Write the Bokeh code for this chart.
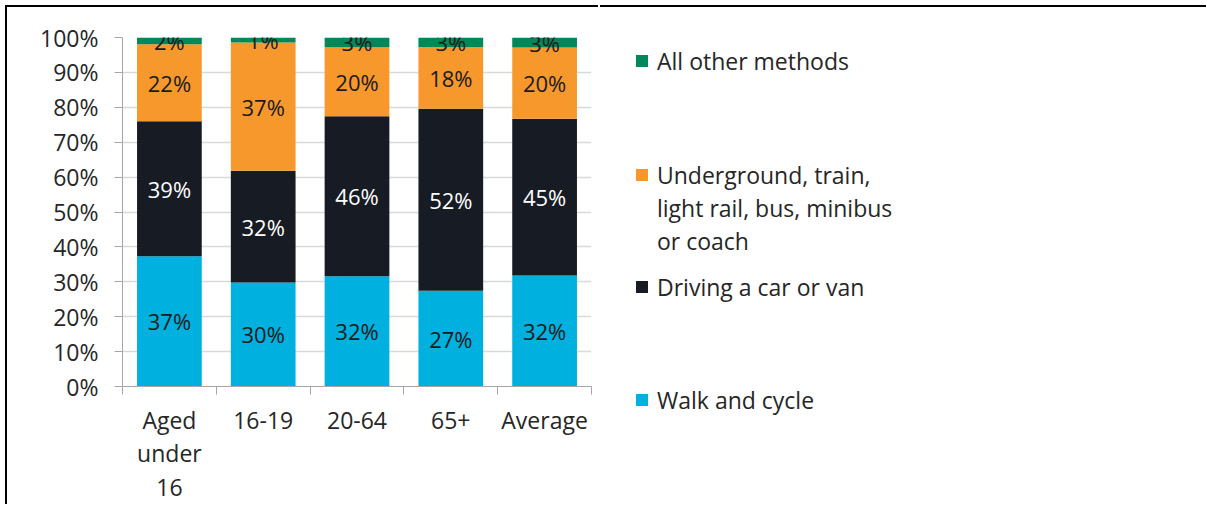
from bokeh.plotting import figure
from bokeh.models import (ColumnDataSource, Range1d, FixedTicker, PrintfTickFormatter,
                          Legend, LegendItem)
from bokeh.embed import file_html
from bokeh.resources import INLINE
from bokeh.core.properties import value
import numpy as np

# ---- data ----
categories = ["Aged\nunder\n16", "16-19", "20-64", "65+", "Average"]
walk_cycle = [37.3, 29.8, 31.6, 27.4, 31.8]
driving = [38.7, 32.0, 45.8, 52.2, 44.9]
public_transport = [22.1, 36.8, 19.8, 17.7, 20.4]
other_methods = [1.9, 1.4, 2.9, 2.7, 2.9]
series_names = ["Walk and cycle", "Driving a car or van",
                "Underground, train,\nlight rail, bus, minibus\nor coach",
                "All other methods"]
series_colors = ["#00B0DE", "#171B23", "#F7982D", "#00875A"]
label_colors = ["#1a1a1a", "#ffffff", "#1a1a1a", "#1a1a1a"]
y_ticks = list(range(0, 101, 10))

FONT = "Open Sans"
TEXT = "#262626"
AXIS = "#a6a6a6"

xs = [i + 0.5 for i in range(len(categories))]
keys = ["walk", "drive", "pt", "other"]
src = ColumnDataSource(dict(x=xs, walk=walk_cycle, drive=driving,
                            pt=public_transport, other=other_methods))

H = 499
W_MAIN = 593
W_LEG = 606

p = figure(width=W_MAIN, height=H, x_range=Range1d(0, len(categories)), y_range=Range1d(0, 100),
           output_backend="svg", toolbar_location=None,
           min_border_left=115, min_border_right=9, min_border_top=30, min_border_bottom=120)
p.outline_line_color = None
p.styles = {"margin-left": "5px", "margin-top": "5px",
            "border-left": "2px solid black", "border-top": "2px solid black"}

rs = p.vbar_stack(keys, x="x", width=0.69, fill_color=series_colors, line_color=None, source=src)

stack = np.array([walk_cycle, driving, public_transport, other_methods])
tops = np.cumsum(stack, axis=0)
mids = tops - stack / 2
for i in range(len(keys)):
    p.text(x=xs, y=list(mids[i]), text=[f"{int(round(float(v)))}%" for v in stack[i]],
           text_align="center", text_baseline="middle", text_color=label_colors[i],
           text_font=value(FONT), text_font_size="22px")

# axes
p.xaxis.ticker = FixedTicker(ticks=xs, minor_ticks=list(range(len(categories) + 1)))
p.xaxis.major_label_overrides = {x: c for x, c in zip(xs, categories)}
p.xaxis.major_tick_line_color = None
p.xaxis.major_tick_out = 8
p.xaxis.major_tick_in = 0
p.xaxis.minor_tick_in = 0
p.xaxis.minor_tick_out = 8
p.xaxis.minor_tick_line_color = AXIS
p.xaxis.axis_line_color = AXIS
p.xaxis.major_label_standoff = 9
p.xaxis.major_label_text_line_height = 1.05

p.yaxis.ticker = FixedTicker(ticks=y_ticks, minor_ticks=[])
p.yaxis.formatter = PrintfTickFormatter(format="%d%%")
p.yaxis.major_tick_out = 8
p.yaxis.major_tick_in = 0
p.yaxis.major_tick_line_color = AXIS
p.yaxis.minor_tick_line_color = None
p.yaxis.axis_line_color = AXIS
p.yaxis.major_label_standoff = 16

for ax in (p.xaxis, p.yaxis):
    ax.major_label_text_font = FONT
    ax.major_label_text_font_size = "23px"
    ax.major_label_text_color = TEXT

p.xgrid.visible = False
p.ygrid.grid_line_color = "#d9d9d9"
p.ygrid.grid_line_width = 1.5

# ---- legend panel: a second figure whose frame is its whole canvas ----
# its view range lies away from the data, so only the legend shows
pl = figure(width=W_LEG, height=H, x_range=Range1d(-20, -19), y_range=Range1d(-20, -19),
            output_backend="svg", toolbar_location=None,
            x_axis_location=None, y_axis_location=None,
            min_border=0, min_border_left=0, min_border_right=0,
            min_border_top=0, min_border_bottom=0)
pl.outline_line_color = None
pl.xgrid.visible = False
pl.ygrid.visible = False
pl.styles = {"position": "absolute", "left": "600px", "top": "5px",
             "border-top": "2px solid black"}

proxies = pl.vbar_stack(keys, x="x", width=0.69, fill_color=series_colors,
                        line_color=None, source=src)
blank = pl.scatter(x="x", y="walk", source=src, size=1, fill_alpha=0, line_alpha=0)

common = dict(orientation="vertical", padding=0, spacing=0, margin=0,
              border_line_color=None, background_fill_alpha=0,
              glyph_width=15, glyph_height=15, label_standoff=8, label_height=33,
              label_text_font=FONT, label_text_font_size="23px", label_text_color=TEXT)

LX = 34
pt_lines = series_names[2].split("\n")
legend_specs = [
    ([LegendItem(label=series_names[3], renderers=[proxies[3]])], 429),
    ([LegendItem(label=pt_lines[0], renderers=[proxies[2]])] +
     [LegendItem(label=t, renderers=[blank]) for t in pt_lines[1:]], 249),
    ([LegendItem(label=series_names[1], renderers=[proxies[1]])], 203),
    ([LegendItem(label=series_names[0], renderers=[proxies[0]])], 90),
]
for items, vy in legend_specs:
    pl.add_layout(Legend(items=items, location=(LX, vy), **common), "center")

open("out.html", "w").write(file_html([p, pl], INLINE))
